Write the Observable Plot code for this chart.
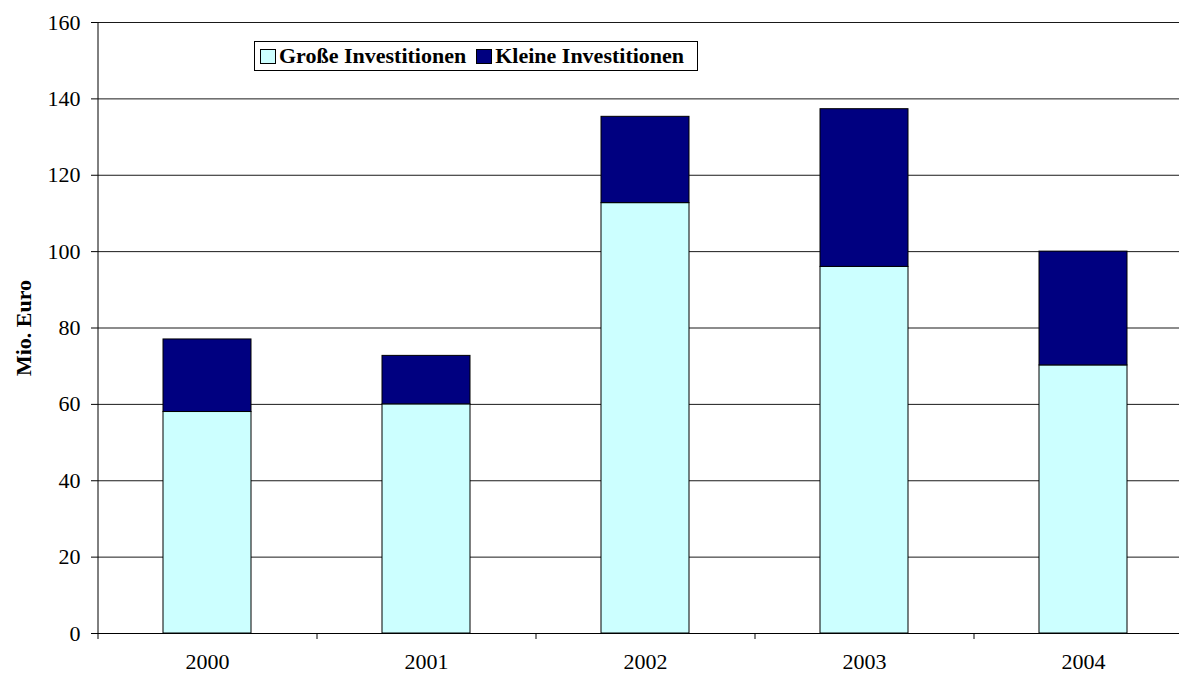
<!DOCTYPE html>
<html>
<head>
<meta charset="utf-8">
<script src="https://cdn.jsdelivr.net/npm/d3@7"></script>
<script src="https://cdn.jsdelivr.net/npm/@observablehq/plot@0.6"></script>
<style>
  html, body { margin: 0; padding: 0; background: #fff; overflow: hidden; }
  #wrap { position: relative; width: 1179px; height: 676px; overflow: hidden; }
  #legend {
    position: absolute; left: 254px; top: 41px; width: 437px; height: 28px;
    border: 1px solid #000; background: #fff;
    display: flex; align-items: center;
    font-family: "Liberation Serif", "Times New Roman", serif; font-weight: bold; font-size: 22px; color: #000;
    box-sizing: content-box; padding-left: 5px;
  }
  .sw { width: 14px; height: 13px; border: 1px solid #000; margin-right: 3px; flex: none; }
  .item { display: flex; align-items: center; margin-right: 10px; white-space: nowrap; }
</style>
</head>
<body>
<div id="wrap"></div>
<script>
const years = ["2000", "2001", "2002", "2003", "2004"];
const grosse = [58, 60, 112.7, 96, 70.2];
const kleine = [19, 12.7, 22.6, 41.3, 29.8];
const seriesNames = ["Große Investitionen", "Kleine Investitionen"];
const seriesColors = ["#CCFFFF", "#000080"];
const yTicks = [0, 20, 40, 60, 80, 100, 120, 140, 160];
const yLabel = "Mio. Euro";

const data = [];
years.forEach((y, i) => {
  data.push({year: y, series: seriesNames[0], value: grosse[i]});
  data.push({year: y, series: seriesNames[1], value: kleine[i]});
});

const halfStep = -109.5;

const chart = Plot.plot({
  width: 1179,
  height: 676,
  marginLeft: 97,
  marginRight: -13,
  marginTop: 22,
  marginBottom: 43,
  style: {fontFamily: "'Liberation Serif', 'Times New Roman', serif", fontSize: "22px", color: "#000", background: "#fff", overflow: "hidden"},
  x: {domain: years, paddingInner: 0.6, paddingOuter: 0.3, align: 0.5, axis: null},
  y: {domain: [0, 160], axis: null},
  color: {domain: seriesNames, range: seriesColors},
  marks: [
    Plot.gridY(yTicks, {stroke: "#000", strokeOpacity: 0.9}),
    Plot.barY(data, {x: "year", y: "value", fill: "series", stroke: "#000", strokeWidth: 1}),
    Plot.ruleY([0], {stroke: "#000"}),
    Plot.ruleX([years[0]], {dx: halfStep, stroke: "#000"}),
    Plot.axisY(yTicks, {tickSize: 6, tickPadding: 11, label: null, stroke: "#000", fontSize: 22}),
    Plot.axisX({tickSize: 6, text: null, label: null, dx: halfStep, stroke: "#000"}),
    Plot.axisX({tickSize: 0, tickPadding: 20, label: null, fontSize: 22}),
    Plot.text([yLabel], {frameAnchor: "left", textAnchor: "middle", rotate: -90, dx: -74, fontWeight: "bold", fontSize: 22, fill: "#000"})
  ]
});

const wrap = document.getElementById("wrap");
wrap.appendChild(chart);

const legend = document.createElement("div");
legend.id = "legend";
seriesNames.forEach((name, i) => {
  const item = document.createElement("div");
  item.className = "item";
  const sw = document.createElement("div");
  sw.className = "sw";
  sw.style.background = seriesColors[i];
  const t = document.createElement("span");
  t.textContent = name;
  item.appendChild(sw);
  item.appendChild(t);
  legend.appendChild(item);
});
wrap.appendChild(legend);
</script>
</body>
</html>
